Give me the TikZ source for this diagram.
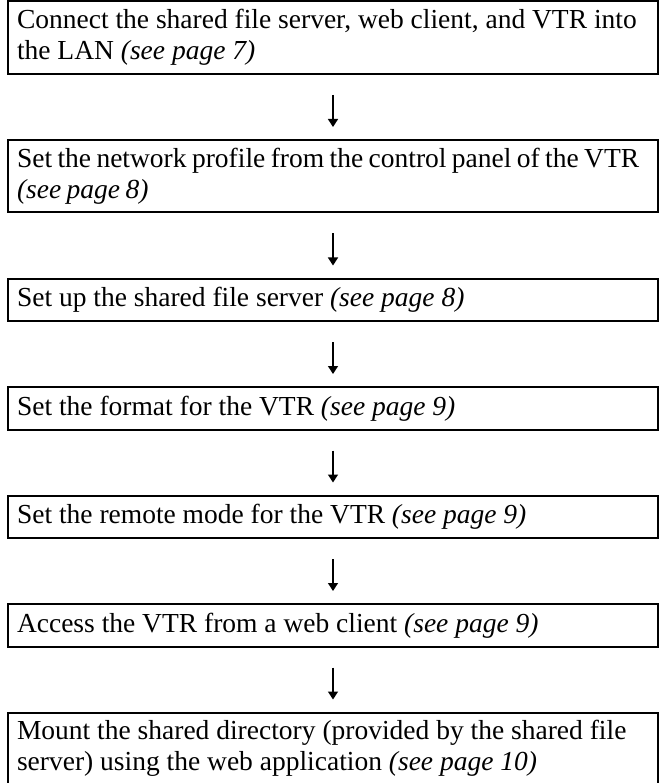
\documentclass[tikz,border=0pt]{standalone}
\usepackage{fontspec}
\setmainfont{Liberation Serif}
\usetikzlibrary{positioning,arrows.meta}
\newcommand\tightspace{\spaceskip=5.4pt\relax}
\tikzset{
  stepbox/.style={draw, line width=2pt, minimum width=650pt, text width=632pt,
    align=flush left, inner xsep=9pt, inner ysep=3pt, minimum height=42.5pt,
    font=\fontsize{27.5}{31}\selectfont},
  twoline/.style={minimum height=72.5pt},
  flowarrow/.style={line width=1.3pt, -{Triangle[length=8pt,width=10pt]},
    shorten <=20pt, shorten >=12pt}
}
\begin{document}
\begin{tikzpicture}[x=1pt,y=1pt]
\def\gap{64pt}
\useasboundingbox (0,0) rectangle (664,-783);

\node[stepbox,twoline,anchor=north] (s1) at (333,-0.5)
  {Connect the shared file server, web client, and VTR into\\the LAN \textit{(see page 7)}};
\node[stepbox,twoline,below=\gap of s1] (s2)
  {\tightspace Set the network profile from the control panel of the VTR\\\textit{(see page 8)}};
\node[stepbox,below=\gap of s2] (s3)
  {Set up the shared file server \textit{(see page 8)}};
\node[stepbox,below=\gap of s3] (s4)
  {Set the format for the VTR \textit{(see page 9)}};
\node[stepbox,below=\gap of s4] (s5)
  {Set the remote mode for the VTR \textit{(see page 9)}};
\node[stepbox,below=\gap of s5] (s6)
  {Access the VTR from a web client \textit{(see page 9)}};
\node[stepbox,twoline,below=\gap of s6] (s7)
  {Mount the shared directory (provided by the shared file\\server) using the web application \textit{(see page 10)}};

\foreach \a/\b in {s1/s2,s2/s3,s3/s4,s4/s5,s5/s6,s6/s7}
  \draw[flowarrow] (\a.south) -- (\b.north);

\end{tikzpicture}
\end{document}
